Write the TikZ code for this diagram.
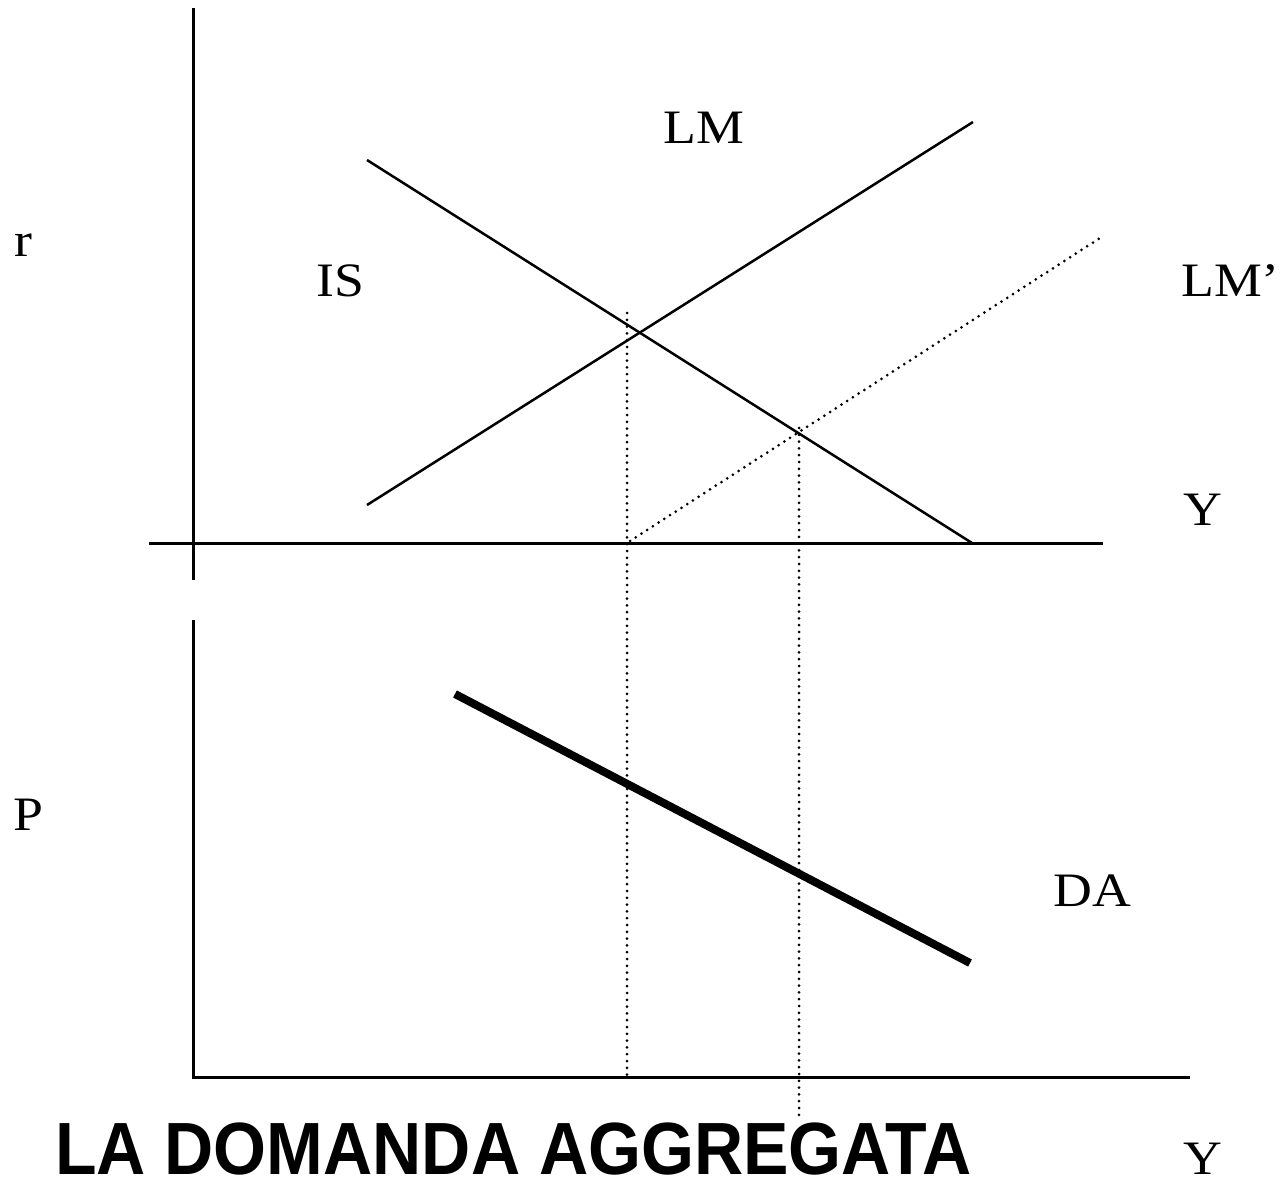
\documentclass[tikz,border=0pt]{standalone}
\usepackage{graphicx}
\usepackage{fontspec}
\setmainfont{Liberation Serif}
\newfontfamily\titlefont{Liberation Sans}
\newcommand\widetxt[1]{\scalebox{1.12}[1]{#1}}
\begin{document}
\begin{tikzpicture}[x=1pt,y=-1pt,
  axis/.style={line width=3pt},
  curve/.style={line width=2.5pt},
  dotline/.style={line width=3pt,line cap=round,dash pattern=on 0pt off 6.8pt},
  thickcurve/.style={line width=8pt},
  lbl/.style={font=\fontsize{48}{52}\selectfont,inner sep=0pt,anchor=base}]
\useasboundingbox (0,0) rectangle (1287,1182);
% axes
\coordinate (rTop) at (193,8);
\coordinate (rBot) at (193,580);
\coordinate (yL) at (149,543);
\coordinate (yR) at (1103,543);
\coordinate (pTop) at (193,620);
\coordinate (orig) at (193,1077);
\coordinate (yR2) at (1190,1077);
\draw[axis] (rTop) -- (rBot);
\draw[axis] (yL) -- (yR);
\draw[axis] (pTop) -- (orig) -- (yR2);
% curves
\coordinate (isA) at (367,160);
\coordinate (isB) at (972,543);
\coordinate (lmA) at (367,505);
\coordinate (lmB) at (973,122);
\coordinate (lm2A) at (630,541);
\coordinate (lm2B) at (1100,238);
\draw[curve] (isA) -- (isB);
\draw[curve] (lmA) -- (lmB);
\draw[dotline] (lm2A) -- (lm2B);
% dotted verticals
\coordinate (v1T) at (627,313);
\coordinate (v1B) at (627,1077);
\coordinate (v2T) at (799,428);
\coordinate (v2B) at (799,1116);
\draw[dotline] (v1T) -- (v1B);
\draw[dotline] (v2T) -- (v2B);
% DA
\coordinate (daA) at (455,694);
\coordinate (daB) at (970,963);
\draw[thickcurve] (daA) -- (daB);
% labels
\node[lbl] (r) at (23,257) {\widetxt{r}};
\node[lbl] (IS) at (340,296) {\widetxt{IS}};
\node[lbl] (LM) at (704,144) {\widetxt{LM}};
\node[lbl,anchor=base west] (LMp) at (1181,296) {\widetxt{LM’}};
\node[lbl] (Y1) at (1203,525) {\widetxt{Y}};
\node[lbl] (P) at (28,830) {\widetxt{P}};
\node[lbl] (DA) at (1092,906) {\widetxt{DA}};
\node[lbl] (Y2) at (1203,1174) {\widetxt{Y}};
\node[inner sep=0pt,anchor=base west,font=\titlefont\bfseries\fontsize{74}{80}\selectfont] (title) at (55,1174) {\scalebox{0.92}[1]{LA DOMANDA AGGREGATA}};
\end{tikzpicture}
\end{document}
